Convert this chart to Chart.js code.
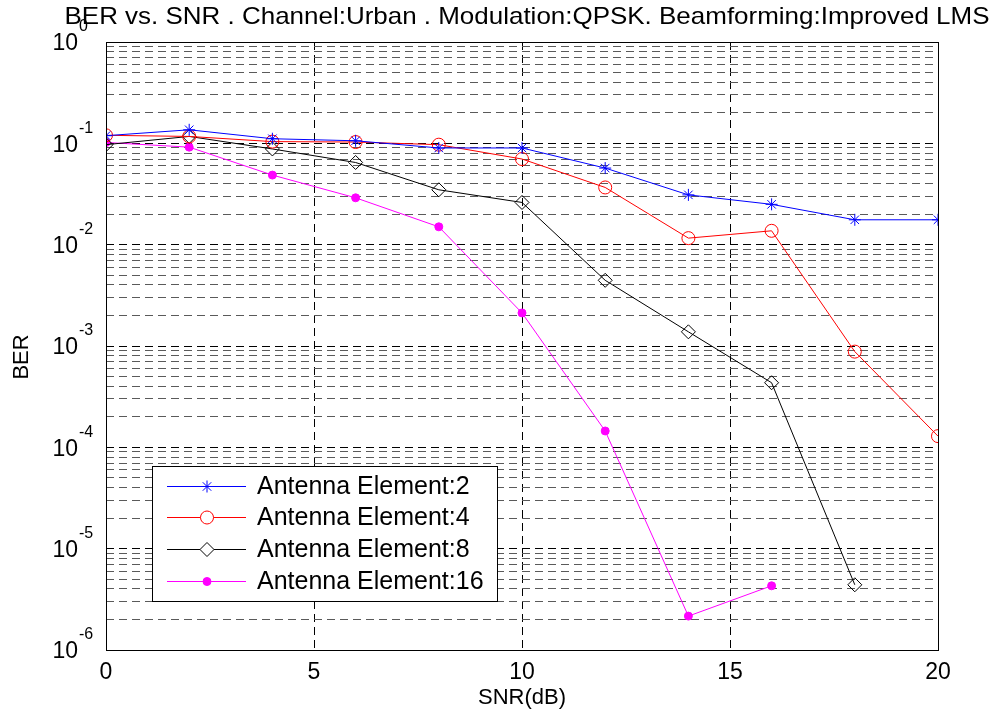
<!DOCTYPE html>
<html><head><meta charset="utf-8">
<script src="https://cdn.jsdelivr.net/npm/chart.js@4/dist/chart.umd.min.js"></script>
<style>html,body{margin:0;padding:0;background:#fff;overflow:hidden}#wrap{width:998px;height:719px;position:relative}</style>
</head><body><div id="wrap"><canvas id="c" width="998" height="719"></canvas></div>
<script>
const titleText = 'BER vs. SNR . Channel:Urban . Modulation:QPSK. Beamforming:Improved LMS';
const xTitle = 'SNR(dB)';
const yTitle = 'BER';
const snr = [0, 2, 4, 6, 8, 10, 12, 14, 16, 18, 20];
const ber2 = [0.119, 0.136, 0.111, 0.106, 0.090, 0.090, 0.057, 0.031, 0.025, 0.0176, 0.0176];
const ber4 = [0.120, 0.117, 0.104, 0.103, 0.097, 0.070, 0.0367, 0.0116, 0.0137, 0.00088, 0.000129];
const ber8 = [0.097, 0.117, 0.088, 0.0647, 0.0348, 0.0261, 0.00445, 0.00138, 0.000434, 0.0000044];
const ber16 = [0.102, 0.0917, 0.0486, 0.029, 0.0150, 0.00212, 0.000145, 0.00000216, 0.0000043];
const seriesNames = ['Antenna Element:2', 'Antenna Element:4', 'Antenna Element:8', 'Antenna Element:16'];
const xTicks = [0, 5, 10, 15, 20];
const yDecades = [1e-6, 1e-5, 1e-4, 1e-3, 1e-2, 1e-1, 1];
const yExponents = ['-6', '-5', '-4', '-3', '-2', '-1', '0'];
const yMinorMult = [1, 2, 3, 4, 5, 6, 7, 8, 9];

const FONT = "'Liberation Sans', Arial, sans-serif";
function pts(ys) { return ys.map((y, i) => ({x: snr[i], y: y})); }

const styles = [
  {color: '#0000ff', pointStyle: 'star', radius: 6, fill: 'rgba(0,0,0,0)'},
  {color: '#ff0000', pointStyle: 'circle', radius: 6.5, fill: 'rgba(0,0,0,0)'},
  {color: '#000000', pointStyle: 'rectRot', radius: 7, fill: 'rgba(0,0,0,0)'},
  {color: '#ff00ff', pointStyle: 'circle', radius: 4, fill: '#ff00ff'}
];
const seriesData = [ber2, ber4, ber8, ber16];

const datasets = seriesData.map((d, i) => ({
  label: seriesNames[i],
  data: pts(d),
  borderColor: styles[i].color,
  backgroundColor: styles[i].fill,
  pointBorderColor: styles[i].color,
  pointBackgroundColor: styles[i].fill,
  pointStyle: styles[i].pointStyle,
  pointRadius: styles[i].radius,
  pointHoverRadius: styles[i].radius,
  pointBorderWidth: 1,
  borderWidth: 1,
  tension: 0,
  fill: false
}));

function drawMarker(ctx, st, x, y) {
  ctx.save();
  ctx.strokeStyle = st.color; ctx.fillStyle = st.fill; ctx.lineWidth = 1;
  const r = st.radius;
  ctx.beginPath();
  if (st.pointStyle === 'star') {
    ctx.moveTo(x - r, y); ctx.lineTo(x + r, y);
    ctx.moveTo(x, y - r); ctx.lineTo(x, y + r);
    const d = r * 0.7071;
    ctx.moveTo(x - d, y - d); ctx.lineTo(x + d, y + d);
    ctx.moveTo(x - d, y + d); ctx.lineTo(x + d, y - d);
    ctx.stroke();
  } else if (st.pointStyle === 'rectRot') {
    ctx.moveTo(x, y - r); ctx.lineTo(x + r, y); ctx.lineTo(x, y + r); ctx.lineTo(x - r, y); ctx.closePath();
    ctx.fillStyle = '#fff'; ctx.fill(); ctx.stroke();
  } else {
    ctx.arc(x, y, r, 0, Math.PI * 2);
    if (st.fill !== 'rgba(0,0,0,0)') { ctx.fillStyle = st.fill; ctx.fill(); } else { ctx.fillStyle = '#fff'; ctx.fill(); }
    ctx.stroke();
  }
  ctx.restore();
}

const decor = {
  id: 'decor',
  afterDraw(chart) {
    const ctx = chart.ctx;
    const a = chart.chartArea;
    const ys = chart.scales.y;
    ctx.save();
    ctx.strokeStyle = '#000'; ctx.lineWidth = 1; ctx.setLineDash([]);
    ctx.strokeRect(Math.round(a.left) + 0.5, Math.round(a.top) + 0.5, Math.round(a.right - a.left), Math.round(a.bottom - a.top));
    ctx.fillStyle = '#000';
    yDecades.forEach((v, i) => {
      const py = ys.getPixelForValue(v);
      ctx.font = '23px ' + FONT; ctx.textAlign = 'right'; ctx.textBaseline = 'middle';
      ctx.fillText('10', a.left - 28, py + 2);
      ctx.font = '16px ' + FONT; ctx.textAlign = 'left';
      ctx.fillText(yExponents[i], a.left - 27, py - 15);
    });
    ctx.font = '24px ' + FONT; ctx.textAlign = 'center'; ctx.textBaseline = 'middle';
    const w = ctx.measureText(titleText).width;
    const target = 925;
    ctx.save();
    ctx.translate(527, 17);
    ctx.scale(target / w, 1);
    ctx.fillText(titleText, 0, 0);
    ctx.restore();
    ctx.font = '22px ' + FONT;
    ctx.fillText(xTitle, (a.left + a.right) / 2, 698);
    ctx.save();
    ctx.translate(22, 357); ctx.rotate(-Math.PI / 2);
    ctx.fillText(yTitle, 0, 0);
    ctx.restore();
    const lx = 152, ly = 466, lw = 345, lh = 135;
    ctx.fillStyle = '#fff'; ctx.fillRect(lx, ly, lw, lh);
    ctx.strokeStyle = '#000'; ctx.strokeRect(lx + 0.5, ly + 0.5, lw, lh);
    const rows = [486, 517, 549, 581];
    chart.data.datasets.forEach((ds, i) => {
      const y = rows[i];
      ctx.strokeStyle = styles[i].color; ctx.lineWidth = 1;
      ctx.beginPath(); ctx.moveTo(167, y + 0.5); ctx.lineTo(246, y + 0.5); ctx.stroke();
      drawMarker(ctx, styles[i], 207, y + 0.5);
      ctx.fillStyle = '#000'; ctx.font = '25px ' + FONT; ctx.textAlign = 'left'; ctx.textBaseline = 'middle';
      ctx.fillText(ds.label, 257, y + 1);
    });
    ctx.restore();
  }
};

new Chart(document.getElementById('c'), {
  type: 'line',
  data: {datasets: datasets},
  options: {
    responsive: false,
    animation: false,
    devicePixelRatio: 1,
    layout: {padding: {top: 42, right: 60, left: 0, bottom: 0}},
    plugins: {legend: {display: false}, title: {display: false}, tooltip: {enabled: false}},
    scales: {
      x: {
        type: 'linear', min: 0, max: 20,
        afterBuildTicks: s => { s.ticks = xTicks.map(v => ({value: v})); },
        afterFit: s => { s.height = 69; },
        ticks: {font: {size: 23, family: FONT}, color: '#000', padding: 9, maxRotation: 0, autoSkip: false},
        grid: {color: '#000', lineWidth: 1, drawTicks: false},
        border: {display: false, dash: [8, 5]}
      },
      y: {
        type: 'logarithmic', min: 1e-6, max: 1,
        afterBuildTicks: s => {
          const t = [];
          yDecades.forEach(d => { if (d < 1) yMinorMult.forEach(m => t.push({value: d * m})); else t.push({value: d}); });
          s.ticks = t;
        },
        afterFit: s => { s.width = 106; },
        ticks: {display: false, autoSkip: false},
        grid: {
          color: c => { const v = c.tick ? c.tick.value : 0; const l = Math.log10(v); return Math.abs(l - Math.round(l)) < 1e-6 ? '#000' : '#5a5a5a'; },
          lineWidth: 1, drawTicks: false
        },
        border: {display: false, dash: [8, 5]}
      }
    }
  },
  plugins: [decor]
});
</script>
</body></html>
